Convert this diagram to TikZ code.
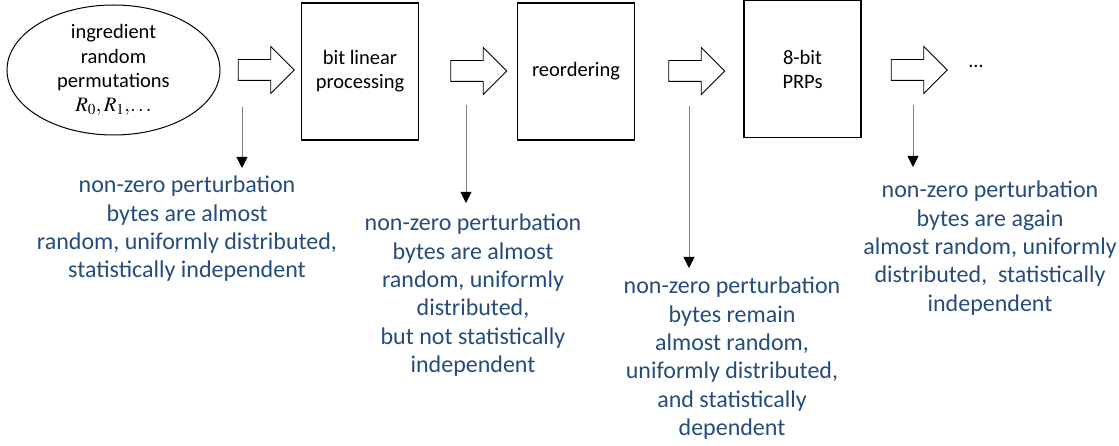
\documentclass[tikz,border=0pt]{standalone}
\usepackage{mathptmx}
\usepackage{fontspec}
\setmainfont{Carlito}
\usepackage{tikz}
\usetikzlibrary{shapes,arrows.meta,positioning}
\definecolor{noteblue}{RGB}{36,76,124}

\begin{document}
\begin{tikzpicture}
                    [
                        x=1pt, y=1pt,
                        ellipsenode/.style={ellipse, draw=black, line width=1pt, minimum width=213pt, minimum height=130pt, inner sep=0pt, align=center, font=\fontsize{20.5}{24.5}\selectfont},
                        rectanglenode/.style={rectangle, draw=black, line width=1.2pt, minimum width=117pt, minimum height=137pt, inner sep=0pt, align=center, font=\fontsize{20.5}{24}\selectfont},
                        blockarrow/.style={single arrow, draw=black, line width=0.9pt, minimum width=0pt, minimum height=56pt, inner xsep=0pt, inner ysep=10pt, single arrow head extend=13pt},
                        notenode/.style={align=center, inner sep=0pt, text=noteblue, font=\fontsize{24}{28.3}\selectfont},
                        downarrow/.style={draw=gray, line width=0.8pt, -{Triangle[length=11pt, width=11pt, color=black]}},
                    ]

                    \useasboundingbox (0,0) rectangle (1119,-446);

                    \node[ellipsenode] (permutations) at (113.5,-70) {ingredient\\random\\permutations\\[-1pt]$R_0, R_1,\!\ldots$};
                    \node[rectanglenode] (linear) at (360,-71.5) {bit linear\\processing};
                    \node[rectanglenode] (reordering) at (576,-71.5) {reordering};
                    \node[rectanglenode] (prps) at (802.5,-69) {8-bit\\PRPs};
                    \node[font=\fontsize{20}{24}\selectfont] (dots) at (976,-66) {\ldots};

                    \node[blockarrow] (flow1) at (261,-70) {};
                    \node[blockarrow] (flow2) at (473.5,-71) {};
                    \node[blockarrow] (flow3) at (691.5,-71) {};
                    \node[blockarrow] (flow4) at (914,-70) {};

                    \coordinate (start1) at (242,-107);
                    \coordinate (start2) at (466,-105);
                    \coordinate (start3) at (689,-106);
                    \coordinate (start4) at (913,-105);
                    \coordinate (tip1) at (242,-168);
                    \coordinate (tip2) at (466,-203);
                    \coordinate (tip3) at (689,-268);
                    \coordinate (tip4) at (913,-167);

                    \draw[downarrow] (start1) -- (tip1);
                    \draw[downarrow] (start2) -- (tip2);
                    \draw[downarrow] (start3) -- (tip3);
                    \draw[downarrow] (start4) -- (tip4);

                    \node[notenode] (note1) [below=8pt of tip1, xshift=-55pt] {non-zero perturbation\\bytes are almost\\random, uniformly distributed,\\statistically independent};
                    \node[notenode] (note2) [below=11pt of tip2, xshift=7pt] {non-zero perturbation\\bytes are almost\\random, uniformly\\distributed,\\but not statistically\\independent};
                    \node[notenode] (note3) [below=9pt of tip3, xshift=43pt] {non-zero perturbation\\bytes remain\\almost random,\\uniformly distributed,\\and statistically\\dependent};
                    \node[notenode] (note4) [below=14pt of tip4, xshift=77pt] {non-zero perturbation\\bytes are again\\almost random, uniformly\\distributed,\ \ statistically\\independent};

                \end{tikzpicture}
\end{document}
